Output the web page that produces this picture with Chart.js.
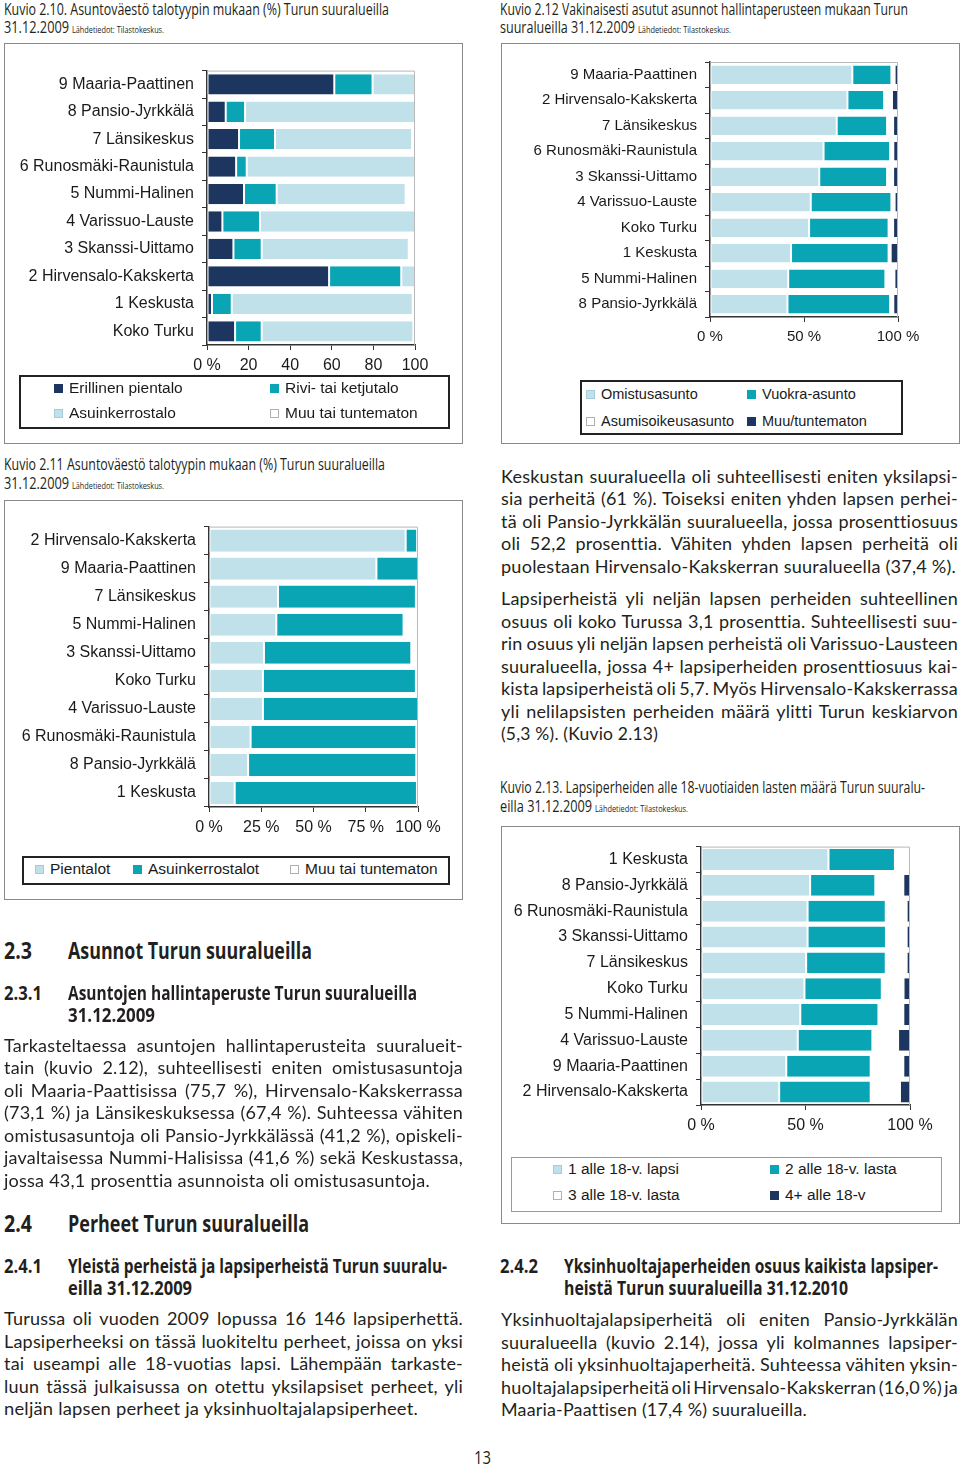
<!DOCTYPE html>
<html><head><meta charset="utf-8">
<script src="https://cdn.jsdelivr.net/npm/chart.js@4.4.1/dist/chart.umd.min.js"></script>
<style>
html,body{margin:0;padding:0;background:#fff;}
#page{position:relative;width:960px;height:1467px;overflow:hidden;background:#fff;color:#231f20;}
.box{position:absolute;box-sizing:border-box;}
.t{position:absolute;white-space:nowrap;}
.t span{display:inline-block;white-space:nowrap;transform-origin:0 0;}
canvas{position:absolute;}
.mk{position:absolute;width:9px;height:9px;box-sizing:border-box;}
.li{position:absolute;font-family:'Liberation Sans',Arial,sans-serif;white-space:nowrap;color:#1a1a1a;line-height:1.15;}
</style></head><body><div id="page"></div>
<script>
// ---------- DATA ----------
const COL = {dark:'#1c3660', teal:'#0aa5b5', light:'#c0e1ea', white:'#ffffff'};

// Kuvio 2.10
const cats10 = ['9 Maaria-Paattinen','8 Pansio-Jyrkkälä','7 Länsikeskus','6 Runosmäki-Raunistula','5 Nummi-Halinen','4 Varissuo-Lauste','3 Skanssi-Uittamo','2 Hirvensalo-Kakskerta','1 Keskusta','Koko Turku'];
const erillinen = [61.2, 9.0, 15.4, 14.0, 17.8, 7.4, 12.7, 58.7, 2.4, 13.5];
const rivi      = [18.4, 9.3, 17.3, 5.1, 15.7, 18.1, 13.6, 34.7, 9.5, 12.8];
const kerros    = [20.4, 81.7, 65.9, 80.9, 62.0, 74.5, 70.7, 6.6, 87.0, 72.9];
const muu10     = [0, 0, 1.4, 0, 4.5, 0, 3.0, 0, 1.1, 0.8];
const ticks10 = [0,20,40,60,80,100];

// Kuvio 2.12
const cats12 = ['9 Maaria-Paattinen','2 Hirvensalo-Kakskerta','7 Länsikeskus','6 Runosmäki-Raunistula','3 Skanssi-Uittamo','4 Varissuo-Lauste','Koko Turku','1 Keskusta','5 Nummi-Halinen','8 Pansio-Jyrkkälä'];
const omistus      = [75.7, 73.1, 67.4, 60.4, 58.1, 53.6, 52.7, 43.1, 41.6, 41.2];
const vuokra       = [20.8, 19.5, 26.8, 35.4, 36.1, 42.9, 42.3, 51.9, 51.7, 54.6];
const asumisoikeus = [1.7, 4.2, 3.2, 1.7, 3.2, 1.7, 2.4, 1.1, 4.8, 1.7];
const muuTunt      = [1.8, 3.2, 2.6, 2.5, 2.6, 1.8, 2.6, 3.9, 1.9, 2.5];
const ticks12 = [0,50,100];

// Kuvio 2.11
const cats11 = ['2 Hirvensalo-Kakskerta','9 Maaria-Paattinen','7 Länsikeskus','5 Nummi-Halinen','3 Skanssi-Uittamo','Koko Turku','4 Varissuo-Lauste','6 Runosmäki-Raunistula','8 Pansio-Jyrkkälä','1 Keskusta'];
const pientalot   = [94.1, 80.1, 33.0, 32.2, 26.3, 25.8, 25.8, 19.9, 18.7, 12.3];
const kerrostalot = [5.5, 19.9, 66.0, 60.9, 70.5, 73.2, 74.2, 79.3, 80.5, 87.2];
const muu11       = [0.4, 0, 1.0, 6.9, 3.2, 1.0, 0, 0.8, 0.8, 0.5];
const ticks11 = [0,25,50,75,100];

// Kuvio 2.13
const cats13 = ['1 Keskusta','8 Pansio-Jyrkkälä','6 Runosmäki-Raunistula','3 Skanssi-Uittamo','7 Länsikeskus','Koko Turku','5 Nummi-Halinen','4 Varissuo-Lauste','9 Maaria-Paattinen','2 Hirvensalo-Kakskerta'];
const lapsi1 = [61.0, 52.2, 51.0, 51.0, 50.3, 49.5, 47.5, 46.3, 40.8, 37.4];
const lasta2 = [31.8, 31.2, 37.4, 37.5, 38.1, 37.0, 37.4, 35.7, 40.4, 43.8];
const lasta3 = [7.2, 13.4, 10.0, 9.9, 10.0, 10.4, 11.9, 12.3, 15.6, 14.0];
const lasta4 = [0, 3.2, 1.6, 1.6, 1.6, 3.1, 3.2, 5.7, 3.2, 4.8];
const ticks13 = [0,50,100];

// ---------- HELPERS ----------
const page = document.getElementById('page');
Chart.defaults.font.family = "'Liberation Sans', Arial, sans-serif";

function box(l,t,w,h,border){
  const d=document.createElement('div');d.className='box';
  Object.assign(d.style,{left:l+'px',top:t+'px',width:w+'px',height:h+'px',border:border});
  page.appendChild(d);return d;
}

const frame = {
  id:'frame',
  afterDatasetsDraw(ch){
    const a=ch.chartArea, c=ch.ctx;
    c.save();c.strokeStyle='#b8b8b8';c.lineWidth=1;
    c.beginPath();c.moveTo(a.left,a.top+0.5);c.lineTo(a.right-0.5,a.top+0.5);c.lineTo(a.right-0.5,a.bottom);c.stroke();
    c.restore();
  }
};

function chart(cfg){
  const {L,T,R,B,yw,labels,sets,ticks,fmt,font,barPct,tickFont}=cfg;
  const padTop=8,padRight=30,xh=34;
  const left=L-yw, top=T-padTop, w=R-left+padRight, h=B-top+xh;
  const c=document.createElement('canvas');
  c.width=w;c.height=h;
  Object.assign(c.style,{left:left+'px',top:top+'px',width:w+'px',height:h+'px'});
  page.appendChild(c);
  new Chart(c,{
    type:'bar',
    data:{labels,datasets:sets.map(s=>({label:s.label,data:s.data,backgroundColor:s.color,borderColor:'#ffffff',
      borderWidth:{left:1,right:1,top:0,bottom:0},borderSkipped:false,barPercentage:barPct,categoryPercentage:1}))},
    options:{
      indexAxis:'y',responsive:false,animation:false,devicePixelRatio:1,
      layout:{padding:{top:padTop,right:padRight,left:0,bottom:0}},
      plugins:{legend:{display:false},tooltip:{enabled:false}},
      scales:{
        x:{stacked:true,min:0,max:100,
          afterBuildTicks:s=>{s.ticks=ticks.map(v=>({value:v}));},
          ticks:{callback:fmt,color:'#1a1a1a',font:{size:tickFont},padding:6,maxRotation:0,autoSkip:false},
          grid:{drawOnChartArea:false,drawTicks:true,tickLength:5,color:'#333'},
          border:{color:'#333',width:1.5},
          afterFit:s=>{s.height=xh;}},
        y:{stacked:true,
          ticks:{color:'#1a1a1a',font:{size:font},padding:8,autoSkip:false},
          grid:{drawOnChartArea:false,drawTicks:true,tickLength:5,color:'#333',offset:true},
          border:{color:'#333',width:1.5},
          afterFit:s=>{s.width=yw;}}
      }
    },
    plugins:[frame]
  });
}

function legend(l,t,w,h,border,items,size){
  box(l,t,w,h,border);
  items.forEach(([x,yc,color,text])=>{
    const m=document.createElement('div');m.className='mk';
    Object.assign(m.style,{left:x+'px',top:(yc-4.5)+'px',background:color,
      border:'1px solid '+(color===COL.white?'#b0b0b0':(color===COL.light?'#a9cbd6':color))});
    page.appendChild(m);
    const s=document.createElement('div');s.className='li';s.textContent=text;
    Object.assign(s.style,{left:(x+15)+'px',top:(yc-0.58*size)+'px',fontSize:size+'px'});
    page.appendChild(s);
  });
}

const FAM={L:"'Lato',sans-serif",O:"'Open Sans',sans-serif"};
function txt(x,yc,w,size,weight,fam,str,mode,ls){
  const lh = fam==='L'?1.2:1.362, k = fam==='L'?0.647:0.71;
  const d=document.createElement('div');d.className='t';
  d.style.left=x+'px';d.style.top=(yc-k*size)+'px';
  d.style.font=weight+' '+size+'px/'+lh+' '+FAM[fam];
  if(ls) d.style.letterSpacing=ls+'px';
  const s=document.createElement('span');s.textContent=str;d.appendChild(s);page.appendChild(d);
  const nat=s.getBoundingClientRect().width;
  if(mode==='fit'){s.style.transform='scaleX('+(w/nat)+')';}
  else if(mode==='just'){const n=(str.match(/ /g)||[]).length; if(n) s.style.wordSpacing=((w-nat)/n)+'px';}
}

// ---------- FRAMES ----------
box(4,43,459,401,'1px solid #8a8a8a');
box(501,43,459,401,'1px solid #8a8a8a');
box(4,500,459,400,'1px solid #8a8a8a');
box(501,826,459,398,'1px solid #8a8a8a');

// ---------- CHARTS ----------
const pct = v=>v+' %';
chart({L:207,T:61,R:415,B:345,yw:197,labels:cats10,font:16,tickFont:16,barPct:0.74,ticks:ticks10,
  fmt:v=>v===0?'0 %':String(v),
  sets:[{label:'Erillinen pientalo',data:erillinen,color:COL.dark},{label:'Rivi- tai ketjutalo',data:rivi,color:COL.teal},
        {label:'Asuinkerrostalo',data:kerros,color:COL.light},{label:'Muu tai tuntematon',data:muu10,color:COL.white}]});
chart({L:710,T:53,R:898,B:317,yw:190,labels:cats12,font:15,tickFont:15,barPct:0.73,ticks:ticks12,fmt:pct,
  sets:[{label:'Omistusasunto',data:omistus,color:COL.light},{label:'Vuokra-asunto',data:vuokra,color:COL.teal},
        {label:'Asumisoikeusasunto',data:asumisoikeus,color:COL.white},{label:'Muu/tuntematon',data:muuTunt,color:COL.dark}]});
chart({L:209,T:517,R:418,B:807,yw:199,labels:cats11,font:16,tickFont:16,barPct:0.79,ticks:ticks11,fmt:pct,
  sets:[{label:'Pientalot',data:pientalot,color:COL.light},{label:'Asuinkerrostalot',data:kerrostalot,color:COL.teal},
        {label:'Muu tai tuntematon',data:muu11,color:COL.white}]});
chart({L:701,T:837,R:910,B:1105,yw:191,labels:cats13,font:16,tickFont:16,barPct:0.81,ticks:ticks13,fmt:pct,
  sets:[{label:'1 alle 18-v. lapsi',data:lapsi1,color:COL.light},{label:'2 alle 18-v. lasta',data:lasta2,color:COL.teal},
        {label:'3 alle 18-v. lasta',data:lasta3,color:COL.white},{label:'4+ alle 18-v',data:lasta4,color:COL.dark}]});

// ---------- LEGENDS ----------
legend(19,375,431,54,'2px solid #222',[[54,388,COL.dark,'Erillinen pientalo'],[270,388,COL.teal,'Rivi- tai ketjutalo'],
  [54,413,COL.light,'Asuinkerrostalo'],[270,413,COL.white,'Muu tai tuntematon']],15.5);
legend(580,380,323,55,'2px solid #222',[[586,394,COL.light,'Omistusasunto'],[747,394,COL.teal,'Vuokra-asunto'],
  [586,421,COL.white,'Asumisoikeusasunto'],[747,421,COL.dark,'Muu/tuntematon']],14.5);
legend(22,856,428,29,'2px solid #222',[[35,869,COL.light,'Pientalot'],[133,869,COL.teal,'Asuinkerrostalot'],
  [290,869,COL.white,'Muu tai tuntematon']],15.5);
legend(511,1157,431,55,'1px solid #999',[[553,1169,COL.light,'1 alle 18-v. lapsi'],[770,1169,COL.teal,'2 alle 18-v. lasta'],
  [553,1195,COL.white,'3 alle 18-v. lasta'],[770,1195,COL.dark,'4+ alle 18-v']],15.5);

// ---------- TITLES ----------
const SRC='Lähdetiedot: Tilastokeskus.';
txt(4,10,385,16,400,'O','Kuvio 2.10. Asuntoväestö talotyypin mukaan (%) Turun suuralueilla','fit');
txt(4,28,65,16,400,'O','31.12.2009','fit');
txt(72,30.5,92,9.5,400,'O',SRC,'fit');
txt(500,10,408,16,400,'O','Kuvio 2.12 Vakinaisesti asutut asunnot hallintaperusteen mukaan Turun','fit');
txt(500,28,135,16,400,'O','suuralueilla 31.12.2009','fit');
txt(638,30.5,93,9.5,400,'O',SRC,'fit');
txt(4,465,381,16,400,'O','Kuvio 2.11 Asuntoväestö talotyypin mukaan (%) Turun suuralueilla','fit');
txt(4,484,65,16,400,'O','31.12.2009','fit');
txt(72,486.5,92,9.5,400,'O',SRC,'fit');
txt(500,788,425,16,400,'O','Kuvio 2.13. Lapsiperheiden alle 18-vuotiaiden lasten määrä Turun suuralu-','fit');
txt(500,807,92,16,400,'O','eilla 31.12.2009','fit');
txt(595,809.5,93,9.5,400,'O',SRC,'fit');

// ---------- HEADINGS ----------
txt(4,951,28,24,700,'O','2.3','fit');
txt(68,951,244,24,700,'O','Asunnot Turun suuralueilla','fit');
txt(4,993,38,20,700,'O','2.3.1','fit');
txt(68,993,349,20,700,'O','Asuntojen hallintaperuste Turun suuralueilla','fit');
txt(68,1015,87,20,700,'O','31.12.2009','fit');
txt(4,1224,28,24,700,'O','2.4','fit');
txt(68,1224,241,24,700,'O','Perheet Turun suuralueilla','fit');
txt(4,1266,38,20,700,'O','2.4.1','fit');
txt(68,1266,379,20,700,'O','Yleistä perheistä ja lapsiperheistä Turun suuralu-','fit');
txt(68,1288,124,20,700,'O','eilla 31.12.2009','fit');
txt(500,1266,38,20,700,'O','2.4.2','fit');
txt(564,1266,374,20,700,'O','Yksinhuoltajaperheiden osuus kaikista lapsiper-','fit');
txt(564,1288,284,20,700,'O','heistä Turun suuralueilla 31.12.2010','fit');

// ---------- BODY TEXT ----------
function para(x,y0,w,lines,lastW){
  lines.forEach((s,i)=>{
    const last=i===lines.length-1;
    txt(x,y0+i*22.45,last?lastW:w,18,400,'L',s,last?'fit':'just',0.2);
  });
}
para(501,477.5,457,['Keskustan suuralueella oli suhteellisesti eniten yksilapsi-',
 'sia perheitä (61 %). Toiseksi eniten yhden lapsen perhei-',
 'tä oli Pansio-Jyrkkälän suuralueella, jossa prosenttiosuus',
 'oli 52,2 prosenttia. Vähiten yhden lapsen perheitä oli',
 'puolestaan Hirvensalo-Kakskerran suuralueella (37,4 %).'],455);
para(501,600,457,['Lapsiperheistä yli neljän lapsen perheiden suhteellinen',
 'osuus oli koko Turussa 3,1 prosenttia. Suhteellisesti suu-',
 'rin osuus yli neljän lapsen perheistä oli Varissuo-Lausteen',
 'suuralueella, jossa 4+ lapsiperheiden prosenttiosuus kai-',
 'kista lapsiperheistä oli 5,7. Myös Hirvensalo-Kakskerrassa',
 'yli nelilapsisten perheiden määrä ylitti Turun keskiarvon',
 '(5,3 %). (Kuvio 2.13)'],157);
para(4,1046.5,459,['Tarkasteltaessa asuntojen hallintaperusteita suuralueit-',
 'tain (kuvio 2.12), suhteellisesti eniten omistusasuntoja',
 'oli Maaria-Paattisissa (75,7 %), Hirvensalo-Kakskerrassa',
 '(73,1 %) ja Länsikeskuksessa (67,4 %). Suhteessa vähiten',
 'omistusasuntoja oli Pansio-Jyrkkälässä (41,2 %), opiskeli-',
 'javaltaisessa Nummi-Halisissa (41,6 %) sekä Keskustassa,',
 'jossa 43,1 prosenttia asunnoista oli omistusasuntoja.'],426);
para(4,1320,459,['Turussa oli vuoden 2009 lopussa 16 146 lapsiperhettä.',
 'Lapsiperheeksi on tässä luokiteltu perheet, joissa on yksi',
 'tai useampi alle 18-vuotias lapsi. Lähempään tarkaste-',
 'luun tässä julkaisussa on otettu yksilapsiset perheet, yli',
 'neljän lapsen perheet ja yksinhuoltajalapsiperheet.'],414);
para(501,1321,457,['Yksinhuoltajalapsiperheitä oli eniten Pansio-Jyrkkälän',
 'suuralueella (kuvio 2.14), jossa yli kolmannes lapsiper-',
 'heistä oli yksinhuoltajaperheitä. Suhteessa vähiten yksin-',
 'huoltajalapsiperheitä oli Hirvensalo-Kakskerran (16,0 %) ja',
 'Maaria-Paattisen (17,4 %) suuralueilla.'],306);

// page number
txt(474,1458,17,18,400,'O','13','fit');
</script></body></html>
